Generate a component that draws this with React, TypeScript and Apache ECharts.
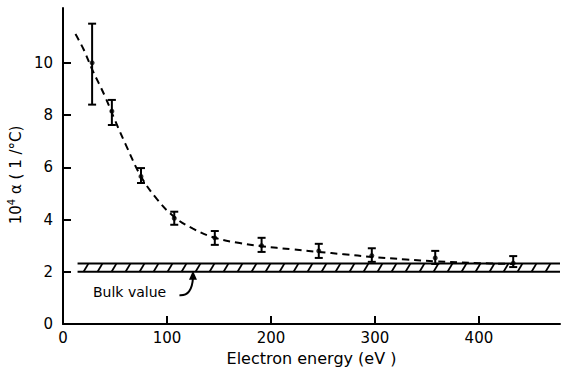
import React, { useEffect, useRef } from "react";
import * as echarts from "echarts";

// measured points
const energy = [28, 47, 75, 107, 146, 191, 246, 297, 358, 433];
const alpha = [10.0, 8.15, 5.65, 4.05, 3.3, 3.0, 2.8, 2.62, 2.53, 2.33];
const errLow = [8.4, 7.62, 5.4, 3.8, 3.03, 2.76, 2.53, 2.38, 2.3, 2.18];
const errHigh = [11.5, 8.58, 5.97, 4.3, 3.56, 3.3, 3.07, 2.9, 2.8, 2.6];

// dashed guide curve
const curveX = [12, 20, 28, 40, 50, 60, 75, 90, 107, 125, 146, 170, 191, 220, 246, 270, 297, 330, 358, 400, 433];
const curveY = [11.1, 10.5, 9.75, 8.75, 7.8, 6.9, 5.65, 4.8, 4.1, 3.65, 3.3, 3.1, 2.98, 2.86, 2.76, 2.67, 2.57, 2.47, 2.4, 2.33, 2.3];

// bulk value band
const bulkLow = 2.0;
const bulkHigh = 2.32;
const bandStart = 14;
const bandEnd = 478;

const xTicks = [100, 200, 300, 400];
const xLabels = [0, 100, 200, 300, 400];
const yTicks = [2, 4, 6, 8, 10];
const yLabels = [0, 2, 4, 6, 8, 10];

const FONT = "DejaVu Sans";

export default function App() {
  const ref = useRef<HTMLDivElement>(null);
  useEffect(() => {
    const chart = echarts.init(ref.current!, null, { renderer: "svg" });
    chart.setOption({
      animation: false,
      backgroundColor: "#fff",
      grid: { left: 63, right: 3, top: 8, bottom: 44, outerBoundsMode: "none", containLabel: false },
      xAxis: {
        type: "value",
        min: 0,
        max: 478,
        name: "Electron energy (eV )",
        nameLocation: "middle",
        nameGap: 24,
        nameTextStyle: { fontFamily: FONT, fontSize: 16, color: "#000", lineHeight: 18 },
        axisLine: { lineStyle: { color: "#000", width: 2 } },
        axisTick: { inside: true, length: 8, customValues: xTicks, lineStyle: { color: "#000", width: 2 } },
        axisLabel: { customValues: xLabels, fontFamily: FONT, fontSize: 15, color: "#000", margin: 6 },
        splitLine: { show: false },
      },
      yAxis: {
        type: "value",
        min: 0,
        max: 12.1,
        name: "{a|10}{s|4}{a| α ( 1 /°C)}",
        nameLocation: "middle",
        nameGap: 34,
        nameTextStyle: {
          fontFamily: FONT,
          fontSize: 15,
          color: "#000",
          padding: [0, 18, 0, 0],
          rich: {
            a: { fontFamily: FONT, fontSize: 15, color: "#000" },
            s: { fontFamily: FONT, fontSize: 10, color: "#000", verticalAlign: "top", padding: [0, 0, 8, 0] },
          },
        },
        axisLine: { lineStyle: { color: "#000", width: 2 } },
        axisTick: { inside: true, length: 8, customValues: yTicks, lineStyle: { color: "#000", width: 2 } },
        axisLabel: { customValues: yLabels, fontFamily: FONT, fontSize: 15, color: "#000", margin: 10 },
        splitLine: { show: false },
      },
      series: [
        {
          type: "custom",
          data: [[bandStart, bandEnd, bulkLow, bulkHigh]],
          renderItem: (params: any, api: any) => {
            const x0 = api.value(0), x1 = api.value(1), lo = api.value(2), hi = api.value(3);
            const pL = api.coord([x0, lo]);
            const pR = api.coord([x1, lo]);
            const pT = api.coord([x0, hi]);
            const children: any[] = [
              { type: "line", shape: { x1: pL[0], y1: pL[1], x2: pR[0], y2: pR[1] }, style: { stroke: "#000", lineWidth: 2 } },
              { type: "line", shape: { x1: pT[0], y1: pT[1], x2: pR[0], y2: pT[1] }, style: { stroke: "#000", lineWidth: 2 } },
            ];
            for (let x = pL[0] + 6; x < pR[0] - 4; x += 14) {
              children.push({
                type: "line",
                shape: { x1: x, y1: pL[1], x2: x + 5, y2: pT[1] },
                style: { stroke: "#000", lineWidth: 1.8 },
              });
            }
            const t = api.coord([64, 1.23]);
            children.push({
              type: "text",
              style: { x: t[0], y: t[1], text: "Bulk value", fontFamily: FONT, fontSize: 14, fill: "#000", align: "center", verticalAlign: "middle" },
            });
            const a0 = api.coord([112, 1.1]);
            const a1 = api.coord([125, 2.0]);
            children.push({
              type: "bezierCurve",
              shape: { x1: a0[0], y1: a0[1], cpx1: a1[0] - 1, cpy1: a0[1] + 1, x2: a1[0], y2: a1[1] + 6 },
              style: { stroke: "#000", lineWidth: 2, fill: null },
            });
            children.push({
              type: "polygon",
              shape: { points: [[a1[0] - 4, a1[1] + 8], [a1[0], a1[1] - 1], [a1[0] + 4, a1[1] + 8]] },
              style: { fill: "#000" },
            });
            return { type: "group", children };
          },
          z: 1,
        },
        {
          type: "line",
          data: curveX.map((x, i) => [x, curveY[i]]),
          smooth: 0.4,
          showSymbol: false,
          lineStyle: { color: "#000", width: 2, type: [7, 5] },
          z: 2,
        },
        {
          type: "custom",
          data: energy.map((x, i) => [x, errLow[i], errHigh[i]]),
          renderItem: (params: any, api: any) => {
            const x = api.value(0);
            const lo = api.coord([x, api.value(1)]);
            const hi = api.coord([x, api.value(2)]);
            const w = 4;
            const st = { stroke: "#000", lineWidth: 2 };
            return {
              type: "group",
              children: [
                { type: "line", shape: { x1: lo[0], y1: lo[1], x2: hi[0], y2: hi[1] }, style: st },
                { type: "line", shape: { x1: lo[0] - w, y1: lo[1], x2: lo[0] + w, y2: lo[1] }, style: st },
                { type: "line", shape: { x1: hi[0] - w, y1: hi[1], x2: hi[0] + w, y2: hi[1] }, style: st },
              ],
            };
          },
          z: 3,
        },
        {
          type: "scatter",
          data: energy.map((x, i) => [x, alpha[i]]),
          symbol: "circle",
          symbolSize: 5,
          itemStyle: { color: "#000" },
          z: 4,
        },
      ],
    });
    return () => chart.dispose();
  }, []);
  return <div ref={ref} style={{ width: 563, height: 368, position: "absolute", left: 0, top: 0 }} />;
}
